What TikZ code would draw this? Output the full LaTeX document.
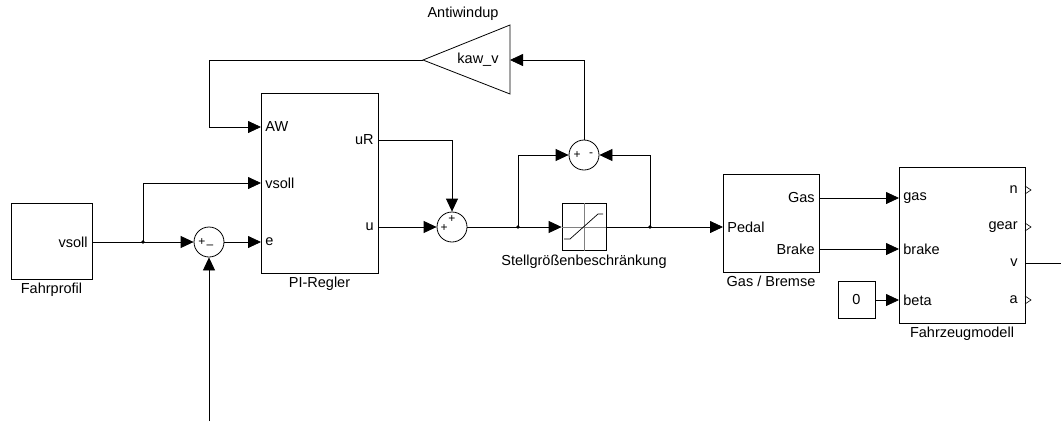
\documentclass[tikz,border=0pt]{standalone}
\usepackage{fontspec}
\setmainfont{Liberation Sans}
\usetikzlibrary{arrows.meta,positioning}

\tikzset{
  blk/.style={draw, line width=0.8pt, inner sep=0pt},
  sum/.style={draw, line width=0.8pt, circle, minimum size=30pt, inner sep=0pt},
  sig/.style={-{Triangle[length=13pt,width=12pt]}},
  lbl/.style={inner sep=4pt},
  zeichen/.style={font=\fontsize{12}{12}\selectfont, inner sep=0pt},
}

\begin{document}
\begin{tikzpicture}[x=1pt, y=-1pt, line width=0.8pt, font=\fontsize{14.5}{16}\selectfont]
        \useasboundingbox (0,0) rectangle (1061,421);

        % --- Fahrprofil ---
        \node[blk, minimum width=81, minimum height=76] (fp) at (51.5,241) {};
        \node[below=0pt of fp] (fplab) {Fahrprofil};
        \coordinate (fp-o) at (92,242);
        \node[lbl, left] (fpv) at (fp-o) {vsoll};

        % --- PI-Regler mit Ein- und Ausgaengen ---
        \node[blk, minimum width=117, minimum height=180] (pi) at (319.5,183) {};
        \node[below=0pt of pi] (pilab) {PI-Regler};
        \coordinate (pi-aw) at (261,127);
        \coordinate (pi-vs) at (261,183);
        \coordinate (pi-e) at (261,242);
        \coordinate (pi-ur) at (378,140);
        \coordinate (pi-u) at (378,227);
        \node[lbl, right] (piaw) at (pi-aw) {AW};
        \node[lbl, right] (pivs) at (pi-vs) {vsoll};
        \node[lbl, right] (pie) at (pi-e) {e};
        \node[lbl, left] (piur) at (pi-ur) {uR};
        \node[lbl, left] (piu) at (pi-u) {u};

        % --- Regelabweichung ---
        \coordinate (b1) at (143,242);
        \node[sum] (s1) at (209,242) {};
        \node[zeichen] (s1p) at (202,242) {+};
        \node[zeichen] (s1m) at (210,247) {--};
        \coordinate (ist) at (209,421);
        \draw (fp-o) -- (b1);
        \draw[sig] (b1) -- (s1);
        \draw[sig] (b1) |- (pi-vs);
        \draw[sig] (s1) -- (pi-e);
        \draw[sig] (ist) -- (s1);
        \fill (b1) circle (1.8);

        % --- Summe uR + u ---
        \node[sum] (s2) at (452,227) {};
        \node[zeichen] (s2l) at (444,228) {+};
        \node[zeichen] (s2t) at (452,219) {+};
        \draw[sig] (pi-ur) -| (s2);
        \draw[sig] (pi-u) -- (s2);

        % --- Stellgroessenbeschraenkung ---
        \node[blk, minimum width=44, minimum height=47] (sat) at (584,227) {};
        \node[below=0pt of sat] (satlab) {Stellgrößenbeschränkung};
        \draw[gray, line width=0.6pt] (sat.north) -- (sat.south) (sat.west) -- (sat.east);
        \draw[line width=0.7pt] (564,239) -- (570,239) -- (598,214) -- (603,214);
        \coordinate (b2) at (518,227);
        \coordinate (b3) at (650,227);
        \draw (s2) -- (b2);
        \draw[sig] (b2) -- (sat);
        \draw (sat) -- (b3);
        \fill (b2) circle (1.8);
        \fill (b3) circle (1.8);

        % --- Antiwindup-Rueckfuehrung ---
        \node[sum] (s3) at (584,155) {};
        \node[zeichen] (s3p) at (577,155) {+};
        \node[zeichen] (s3m) at (591,155) {-};
        \draw[sig] (b2) |- (s3);
        \draw[sig] (b3) |- (s3);
        \draw[blk] (510,25) -- (423,60) coordinate (k-tip) -- (510,94) -- cycle;
        \coordinate (k-in) at (510,60);
        \node (kaw) at (478,60) {kaw\_v};
        \node (awlab) at (463,14) {Antiwindup};
        \coordinate (awc) at (209,60);
        \draw[sig] (s3) |- (k-in);
        \draw[sig] (k-tip) -- (awc) |- (pi-aw);

        % --- Gas / Bremse ---
        \node[blk, minimum width=96, minimum height=98] (gb) at (771,223) {};
        \node[below=0pt of gb] (gblab) {Gas / Bremse};
        \coordinate (gb-p) at (723,227);
        \coordinate (gb-g) at (819,198);
        \coordinate (gb-b) at (819,249);
        \node[lbl, right] (gbp) at (gb-p) {Pedal};
        \node[lbl, left] (gbg) at (gb-g) {Gas};
        \node[lbl, left] (gbb) at (gb-b) {Brake};
        \draw[sig] (b3) -- (gb-p);

        % --- Fahrzeugmodell ---
        \node[blk, minimum width=126, minimum height=156] (fm) at (962,245) {};
        \node[below=0pt of fm] (fmlab) {Fahrzeugmodell};
        \coordinate (fm-g) at (899,198);
        \coordinate (fm-b) at (899,249);
        \coordinate (fm-beta) at (899,300);
        \coordinate (fm-n) at (1025,190);
        \coordinate (fm-gear) at (1025,227);
        \coordinate (fm-v) at (1025,263);
        \coordinate (fm-a) at (1025,300);
        \node[lbl, right] (fmg) at (fm-g) {gas};
        \node[lbl, right] (fmb) at (fm-b) {brake};
        \node[lbl, right] (fmbeta) at (fm-beta) {beta};
        \node[lbl, left, xshift=-3] (fmn) at (fm-n) {n};
        \node[lbl, left, xshift=-3] (fmgear) at (fm-gear) {gear};
        \node[lbl, left, xshift=-3] (fmv) at (fm-v) {v};
        \node[lbl, left, xshift=-3] (fma) at (fm-a) {a};
        \foreach \p in {fm-n, fm-gear, fm-a}
            \draw[line width=0.6pt] (\p) ++(0,-4) -- ++(6,4) -- ++(-6,4);
        \node[blk, minimum width=37, minimum height=37] (c0) at (856.5,300) {0};
        \coordinate (vout) at (1061,263);
        \draw[sig] (gb-g) -- (fm-g);
        \draw[sig] (gb-b) -- (fm-b);
        \draw[sig] (c0) -- (fm-beta);
        \draw (fm-v) -- (vout);
\end{tikzpicture}
\end{document}
